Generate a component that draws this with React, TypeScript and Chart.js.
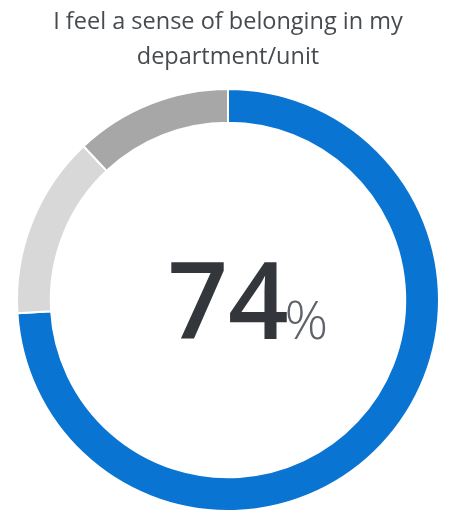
import React, { useEffect, useRef } from "react";
import { Chart, registerables } from "chart.js";

Chart.register(...registerables);

const titleLines = ["I feel a sense of belonging in my", "department/unit"];
const categories = ["Agree", "Neutral", "Disagree"];
const values = [74, 14, 12];
const colors = ["#0A74D2", "#D8D8D8", "#A7A7A7"];
const centerValue = "74";
const centerUnit = "%";

const centerTextPlugin = {
  id: "centerText",
  afterDraw(chart: any) {
    const arc = chart.getDatasetMeta(0).data[0];
    if (!arc) return;
    const { ctx } = chart;
    const cx = arc.x;
    const cy = arc.y;
    ctx.save();
    ctx.textBaseline = "alphabetic";
    ctx.textAlign = "center";
    ctx.fillStyle = "#33373b";
    ctx.font = "600 106px 'Open Sans'";
    const baseline = cy + 39;
    ctx.fillText(centerValue, cx, baseline);
    const w = ctx.measureText(centerValue).width;
    ctx.textAlign = "left";
    ctx.fillStyle = "#5f6368";
    ctx.font = "300 54px 'Open Sans'";
    ctx.fillText(centerUnit, cx + w / 2 - 4, baseline);
    ctx.restore();
  },
};

export default function App() {
  const ref = useRef<HTMLCanvasElement>(null);
  useEffect(() => {
    if (!ref.current) return;
    const chart = new Chart(ref.current, {
      type: "doughnut",
      data: {
        labels: categories,
        datasets: [
          {
            data: values,
            backgroundColor: colors,
            borderColor: "#ffffff",
            borderWidth: 2,
            hoverOffset: 0,
          },
        ],
      },
      options: {
        responsive: false,
        animation: false,
        cutout: "84%",
        rotation: 0,
        layout: { padding: { left: 7, right: 0, top: 0, bottom: 8 } },
        plugins: {
          legend: { display: false },
          tooltip: { enabled: false },
          title: {
            display: true,
            text: titleLines,
            color: "#474b4f",
            font: { family: "'Open Sans'", size: 23.5, weight: "normal", lineHeight: 1.49 },
            padding: { top: 5, bottom: 13 },
          },
        },
      },
      plugins: [centerTextPlugin],
    });
    return () => chart.destroy();
  }, []);
  return (
    <div style={{ position: "absolute", left: 0, top: 0, width: 449, height: 520, background: "#fff" }}>
      <canvas ref={ref} width={449} height={520} style={{ width: 449, height: 520 }} />
    </div>
  );
}
